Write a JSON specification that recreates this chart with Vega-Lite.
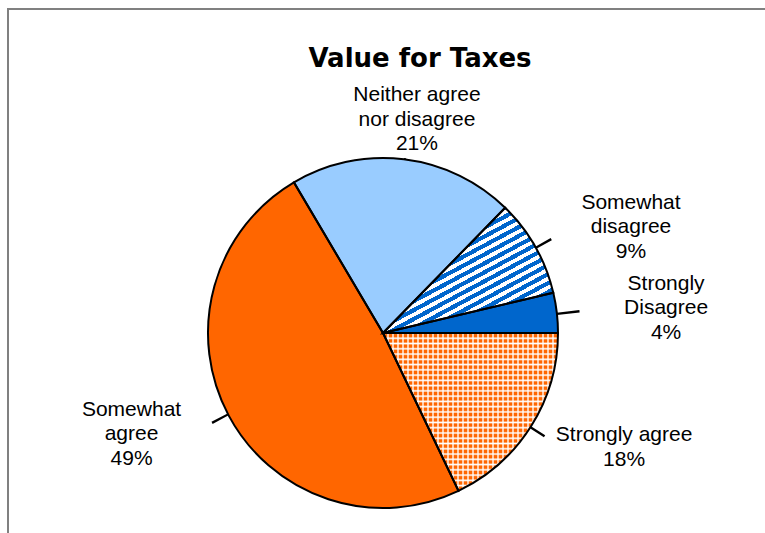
{
  "$schema": "https://vega.github.io/schema/vega-lite/v6.json",
  "width": 800,
  "height": 560,
  "autosize": "none",
  "padding": {"left": 8, "top": 9, "right": 0, "bottom": 0},
  "background": "white",
  "view": {"stroke": "#808080", "strokeWidth": 2},
  "title": {
    "text": "Value for Taxes",
    "font": "DejaVu Sans",
    "fontSize": 26,
    "fontWeight": "bold",
    "color": "#000",
    "anchor": "middle",
    "dx": 12,
    "offset": -63
  },
  "data": {
    "values": [
      {"cat": "Strongly agree", "order": 1, "value": 17.9, "label": ["Strongly agree", "18%"]},
      {"cat": "Somewhat agree", "order": 2, "value": 48.6, "label": ["Somewhat", "agree", "49%"]},
      {"cat": "Neither agree nor disagree", "order": 3, "value": 20.8, "label": ["Neither agree", "nor disagree", "21%"]},
      {"cat": "Somewhat disagree", "order": 4, "value": 9.0, "label": ["Somewhat", "disagree", "9%"]},
      {"cat": "Strongly Disagree", "order": 5, "value": 3.7, "label": ["Strongly", "Disagree", "4%"]}
    ]
  },
  "transform": [
    {"stack": "value", "groupby": [], "sort": [{"field": "order"}], "as": ["v0", "v1"]},
    {"calculate": "(datum.v0 + datum.v1) / 2", "as": "mid"},
    {"calculate": "datum.mid + 0.2", "as": "mid2"},
    {"calculate": "2 * PI * datum.mid / 100", "as": "ang"}
  ],
  "layer": [
    {
      "data": {"values": [{"z": 0}]},
      "transform": [],
      "mark": {"type": "point", "opacity": 0},
      "encoding": {
        "x": {"field": "z", "type": "quantitative", "axis": null},
        "y": {"field": "z", "type": "quantitative", "axis": null}
      }
    },
    {
      "mark": {"type": "arc", "outerRadius": 175, "x": 375, "y": 324, "strokeWidth": 0},
      "encoding": {
        "theta": {"field": "v0", "type": "quantitative", "stack": null, "scale": {"domain": [0, 100], "range": [1.5708, 7.854]}},
        "theta2": {"field": "v1"},
        "color": {
          "condition": [
            {"test": "datum.cat === 'Somewhat disagree'", "value": {
              "gradient": "linear", "x1": 0, "y1": 0, "x2": 0.85, "y2": 1.17,
              "stops": [
                {"offset": 0, "color": "#0066cc"}, {"offset": 0.021, "color": "#0066cc"}, {"offset": 0.021, "color": "#fff"}, {"offset": 0.04, "color": "#fff"},
                {"offset": 0.04, "color": "#0066cc"}, {"offset": 0.061, "color": "#0066cc"}, {"offset": 0.061, "color": "#fff"}, {"offset": 0.08, "color": "#fff"},
                {"offset": 0.08, "color": "#0066cc"}, {"offset": 0.101, "color": "#0066cc"}, {"offset": 0.101, "color": "#fff"}, {"offset": 0.12, "color": "#fff"},
                {"offset": 0.12, "color": "#0066cc"}, {"offset": 0.141, "color": "#0066cc"}, {"offset": 0.141, "color": "#fff"}, {"offset": 0.16, "color": "#fff"},
                {"offset": 0.16, "color": "#0066cc"}, {"offset": 0.181, "color": "#0066cc"}, {"offset": 0.181, "color": "#fff"}, {"offset": 0.20, "color": "#fff"},
                {"offset": 0.20, "color": "#0066cc"}, {"offset": 0.221, "color": "#0066cc"}, {"offset": 0.221, "color": "#fff"}, {"offset": 0.24, "color": "#fff"},
                {"offset": 0.24, "color": "#0066cc"}, {"offset": 0.261, "color": "#0066cc"}, {"offset": 0.261, "color": "#fff"}, {"offset": 0.28, "color": "#fff"},
                {"offset": 0.28, "color": "#0066cc"}, {"offset": 0.301, "color": "#0066cc"}, {"offset": 0.301, "color": "#fff"}, {"offset": 0.32, "color": "#fff"},
                {"offset": 0.32, "color": "#0066cc"}, {"offset": 0.341, "color": "#0066cc"}, {"offset": 0.341, "color": "#fff"}, {"offset": 0.36, "color": "#fff"},
                {"offset": 0.36, "color": "#0066cc"}, {"offset": 0.381, "color": "#0066cc"}, {"offset": 0.381, "color": "#fff"}, {"offset": 0.40, "color": "#fff"},
                {"offset": 0.40, "color": "#0066cc"}, {"offset": 0.421, "color": "#0066cc"}, {"offset": 0.421, "color": "#fff"}, {"offset": 0.44, "color": "#fff"},
                {"offset": 0.44, "color": "#0066cc"}, {"offset": 0.461, "color": "#0066cc"}, {"offset": 0.461, "color": "#fff"}, {"offset": 0.48, "color": "#fff"},
                {"offset": 0.48, "color": "#0066cc"}, {"offset": 0.501, "color": "#0066cc"}, {"offset": 0.501, "color": "#fff"}, {"offset": 0.52, "color": "#fff"},
                {"offset": 0.52, "color": "#0066cc"}, {"offset": 0.541, "color": "#0066cc"}, {"offset": 0.541, "color": "#fff"}, {"offset": 0.56, "color": "#fff"},
                {"offset": 0.56, "color": "#0066cc"}, {"offset": 0.581, "color": "#0066cc"}, {"offset": 0.581, "color": "#fff"}, {"offset": 0.60, "color": "#fff"},
                {"offset": 0.60, "color": "#0066cc"}, {"offset": 0.621, "color": "#0066cc"}, {"offset": 0.621, "color": "#fff"}, {"offset": 0.64, "color": "#fff"},
                {"offset": 0.64, "color": "#0066cc"}, {"offset": 0.661, "color": "#0066cc"}, {"offset": 0.661, "color": "#fff"}, {"offset": 0.68, "color": "#fff"},
                {"offset": 0.68, "color": "#0066cc"}, {"offset": 0.701, "color": "#0066cc"}, {"offset": 0.701, "color": "#fff"}, {"offset": 0.72, "color": "#fff"},
                {"offset": 0.72, "color": "#0066cc"}, {"offset": 0.741, "color": "#0066cc"}, {"offset": 0.741, "color": "#fff"}, {"offset": 0.76, "color": "#fff"},
                {"offset": 0.76, "color": "#0066cc"}, {"offset": 0.781, "color": "#0066cc"}, {"offset": 0.781, "color": "#fff"}, {"offset": 0.80, "color": "#fff"},
                {"offset": 0.80, "color": "#0066cc"}, {"offset": 0.821, "color": "#0066cc"}, {"offset": 0.821, "color": "#fff"}, {"offset": 0.84, "color": "#fff"},
                {"offset": 0.84, "color": "#0066cc"}, {"offset": 0.861, "color": "#0066cc"}, {"offset": 0.861, "color": "#fff"}, {"offset": 0.88, "color": "#fff"},
                {"offset": 0.88, "color": "#0066cc"}, {"offset": 0.901, "color": "#0066cc"}, {"offset": 0.901, "color": "#fff"}, {"offset": 0.92, "color": "#fff"},
                {"offset": 0.92, "color": "#0066cc"}, {"offset": 0.941, "color": "#0066cc"}, {"offset": 0.941, "color": "#fff"}, {"offset": 0.96, "color": "#fff"},
                {"offset": 0.96, "color": "#0066cc"}, {"offset": 0.981, "color": "#0066cc"}, {"offset": 0.981, "color": "#fff"}, {"offset": 1, "color": "#fff"}
              ]
            }},
            {"test": "datum.cat === 'Strongly agree'", "value": {
              "gradient": "linear", "x1": 0, "y1": 0, "x2": 0, "y2": 1,
              "stops": [
                {"offset": 0, "color": "#fff"}, {"offset": 0.01, "color": "#ff6600"}, {"offset": 0.02333, "color": "#ff6600"},
                {"offset": 0.03333, "color": "#fff"}, {"offset": 0.04333, "color": "#ff6600"}, {"offset": 0.05667, "color": "#ff6600"},
                {"offset": 0.06667, "color": "#fff"}, {"offset": 0.07667, "color": "#ff6600"}, {"offset": 0.09, "color": "#ff6600"},
                {"offset": 0.1, "color": "#fff"}, {"offset": 0.11, "color": "#ff6600"}, {"offset": 0.12333, "color": "#ff6600"},
                {"offset": 0.13333, "color": "#fff"}, {"offset": 0.14333, "color": "#ff6600"}, {"offset": 0.15667, "color": "#ff6600"},
                {"offset": 0.16667, "color": "#fff"}, {"offset": 0.17667, "color": "#ff6600"}, {"offset": 0.19, "color": "#ff6600"},
                {"offset": 0.2, "color": "#fff"}, {"offset": 0.21, "color": "#ff6600"}, {"offset": 0.22333, "color": "#ff6600"},
                {"offset": 0.23333, "color": "#fff"}, {"offset": 0.24333, "color": "#ff6600"}, {"offset": 0.25667, "color": "#ff6600"},
                {"offset": 0.26667, "color": "#fff"}, {"offset": 0.27667, "color": "#ff6600"}, {"offset": 0.29, "color": "#ff6600"},
                {"offset": 0.3, "color": "#fff"}, {"offset": 0.31, "color": "#ff6600"}, {"offset": 0.32333, "color": "#ff6600"},
                {"offset": 0.33333, "color": "#fff"}, {"offset": 0.34333, "color": "#ff6600"}, {"offset": 0.35667, "color": "#ff6600"},
                {"offset": 0.36667, "color": "#fff"}, {"offset": 0.37667, "color": "#ff6600"}, {"offset": 0.39, "color": "#ff6600"},
                {"offset": 0.4, "color": "#fff"}, {"offset": 0.41, "color": "#ff6600"}, {"offset": 0.42333, "color": "#ff6600"},
                {"offset": 0.43333, "color": "#fff"}, {"offset": 0.44333, "color": "#ff6600"}, {"offset": 0.45667, "color": "#ff6600"},
                {"offset": 0.46667, "color": "#fff"}, {"offset": 0.47667, "color": "#ff6600"}, {"offset": 0.49, "color": "#ff6600"},
                {"offset": 0.5, "color": "#fff"}, {"offset": 0.51, "color": "#ff6600"}, {"offset": 0.52333, "color": "#ff6600"},
                {"offset": 0.53333, "color": "#fff"}, {"offset": 0.54333, "color": "#ff6600"}, {"offset": 0.55667, "color": "#ff6600"},
                {"offset": 0.56667, "color": "#fff"}, {"offset": 0.57667, "color": "#ff6600"}, {"offset": 0.59, "color": "#ff6600"},
                {"offset": 0.6, "color": "#fff"}, {"offset": 0.61, "color": "#ff6600"}, {"offset": 0.62333, "color": "#ff6600"},
                {"offset": 0.63333, "color": "#fff"}, {"offset": 0.64333, "color": "#ff6600"}, {"offset": 0.65667, "color": "#ff6600"},
                {"offset": 0.66667, "color": "#fff"}, {"offset": 0.67667, "color": "#ff6600"}, {"offset": 0.69, "color": "#ff6600"},
                {"offset": 0.7, "color": "#fff"}, {"offset": 0.71, "color": "#ff6600"}, {"offset": 0.72333, "color": "#ff6600"},
                {"offset": 0.73333, "color": "#fff"}, {"offset": 0.74333, "color": "#ff6600"}, {"offset": 0.75667, "color": "#ff6600"},
                {"offset": 0.76667, "color": "#fff"}, {"offset": 0.77667, "color": "#ff6600"}, {"offset": 0.79, "color": "#ff6600"},
                {"offset": 0.8, "color": "#fff"}, {"offset": 0.81, "color": "#ff6600"}, {"offset": 0.82333, "color": "#ff6600"},
                {"offset": 0.83333, "color": "#fff"}, {"offset": 0.84333, "color": "#ff6600"}, {"offset": 0.85667, "color": "#ff6600"},
                {"offset": 0.86667, "color": "#fff"}, {"offset": 0.87667, "color": "#ff6600"}, {"offset": 0.89, "color": "#ff6600"},
                {"offset": 0.9, "color": "#fff"}, {"offset": 0.91, "color": "#ff6600"}, {"offset": 0.92333, "color": "#ff6600"},
                {"offset": 0.93333, "color": "#fff"}, {"offset": 0.94333, "color": "#ff6600"}, {"offset": 0.95667, "color": "#ff6600"},
                {"offset": 0.96667, "color": "#fff"}, {"offset": 0.97667, "color": "#ff6600"}, {"offset": 0.99, "color": "#ff6600"},
                {"offset": 1, "color": "#fff"}
              ]
            }}
          ],
          "field": "cat",
          "type": "nominal",
          "scale": {
            "domain": ["Strongly agree", "Somewhat agree", "Neither agree nor disagree", "Somewhat disagree", "Strongly Disagree"],
            "range": ["#ffffff", "#ff6600", "#99ccff", "#ffffff", "#0066cc"]
          },
          "legend": null
        }
      }
    },
    {
      "transform": [{"filter": "datum.cat === 'Strongly agree'"}],
      "mark": {
        "type": "arc", "outerRadius": 175, "x": 375, "y": 324, "strokeWidth": 0,
        "fill": {
          "gradient": "linear", "x1": 0, "y1": 0, "x2": 1, "y2": 0,
          "stops": [
            {"offset": 0, "color": "rgba(255,255,255,1)"}, {"offset": 0.00857, "color": "rgba(255,255,255,0)"}, {"offset": 0.02, "color": "rgba(255,255,255,0)"},
            {"offset": 0.02857, "color": "rgba(255,255,255,1)"}, {"offset": 0.03714, "color": "rgba(255,255,255,0)"}, {"offset": 0.04857, "color": "rgba(255,255,255,0)"},
            {"offset": 0.05714, "color": "rgba(255,255,255,1)"}, {"offset": 0.06571, "color": "rgba(255,255,255,0)"}, {"offset": 0.07714, "color": "rgba(255,255,255,0)"},
            {"offset": 0.08571, "color": "rgba(255,255,255,1)"}, {"offset": 0.09429, "color": "rgba(255,255,255,0)"}, {"offset": 0.10571, "color": "rgba(255,255,255,0)"},
            {"offset": 0.11429, "color": "rgba(255,255,255,1)"}, {"offset": 0.12286, "color": "rgba(255,255,255,0)"}, {"offset": 0.13429, "color": "rgba(255,255,255,0)"},
            {"offset": 0.14286, "color": "rgba(255,255,255,1)"}, {"offset": 0.15143, "color": "rgba(255,255,255,0)"}, {"offset": 0.16286, "color": "rgba(255,255,255,0)"},
            {"offset": 0.17143, "color": "rgba(255,255,255,1)"}, {"offset": 0.18, "color": "rgba(255,255,255,0)"}, {"offset": 0.19143, "color": "rgba(255,255,255,0)"},
            {"offset": 0.2, "color": "rgba(255,255,255,1)"}, {"offset": 0.20857, "color": "rgba(255,255,255,0)"}, {"offset": 0.22, "color": "rgba(255,255,255,0)"},
            {"offset": 0.22857, "color": "rgba(255,255,255,1)"}, {"offset": 0.23714, "color": "rgba(255,255,255,0)"}, {"offset": 0.24857, "color": "rgba(255,255,255,0)"},
            {"offset": 0.25714, "color": "rgba(255,255,255,1)"}, {"offset": 0.26571, "color": "rgba(255,255,255,0)"}, {"offset": 0.27714, "color": "rgba(255,255,255,0)"},
            {"offset": 0.28571, "color": "rgba(255,255,255,1)"}, {"offset": 0.29429, "color": "rgba(255,255,255,0)"}, {"offset": 0.30571, "color": "rgba(255,255,255,0)"},
            {"offset": 0.31429, "color": "rgba(255,255,255,1)"}, {"offset": 0.32286, "color": "rgba(255,255,255,0)"}, {"offset": 0.33429, "color": "rgba(255,255,255,0)"},
            {"offset": 0.34286, "color": "rgba(255,255,255,1)"}, {"offset": 0.35143, "color": "rgba(255,255,255,0)"}, {"offset": 0.36286, "color": "rgba(255,255,255,0)"},
            {"offset": 0.37143, "color": "rgba(255,255,255,1)"}, {"offset": 0.38, "color": "rgba(255,255,255,0)"}, {"offset": 0.39143, "color": "rgba(255,255,255,0)"},
            {"offset": 0.4, "color": "rgba(255,255,255,1)"}, {"offset": 0.40857, "color": "rgba(255,255,255,0)"}, {"offset": 0.42, "color": "rgba(255,255,255,0)"},
            {"offset": 0.42857, "color": "rgba(255,255,255,1)"}, {"offset": 0.43714, "color": "rgba(255,255,255,0)"}, {"offset": 0.44857, "color": "rgba(255,255,255,0)"},
            {"offset": 0.45714, "color": "rgba(255,255,255,1)"}, {"offset": 0.46571, "color": "rgba(255,255,255,0)"}, {"offset": 0.47714, "color": "rgba(255,255,255,0)"},
            {"offset": 0.48571, "color": "rgba(255,255,255,1)"}, {"offset": 0.49429, "color": "rgba(255,255,255,0)"}, {"offset": 0.50571, "color": "rgba(255,255,255,0)"},
            {"offset": 0.51429, "color": "rgba(255,255,255,1)"}, {"offset": 0.52286, "color": "rgba(255,255,255,0)"}, {"offset": 0.53429, "color": "rgba(255,255,255,0)"},
            {"offset": 0.54286, "color": "rgba(255,255,255,1)"}, {"offset": 0.55143, "color": "rgba(255,255,255,0)"}, {"offset": 0.56286, "color": "rgba(255,255,255,0)"},
            {"offset": 0.57143, "color": "rgba(255,255,255,1)"}, {"offset": 0.58, "color": "rgba(255,255,255,0)"}, {"offset": 0.59143, "color": "rgba(255,255,255,0)"},
            {"offset": 0.6, "color": "rgba(255,255,255,1)"}, {"offset": 0.60857, "color": "rgba(255,255,255,0)"}, {"offset": 0.62, "color": "rgba(255,255,255,0)"},
            {"offset": 0.62857, "color": "rgba(255,255,255,1)"}, {"offset": 0.63714, "color": "rgba(255,255,255,0)"}, {"offset": 0.64857, "color": "rgba(255,255,255,0)"},
            {"offset": 0.65714, "color": "rgba(255,255,255,1)"}, {"offset": 0.66571, "color": "rgba(255,255,255,0)"}, {"offset": 0.67714, "color": "rgba(255,255,255,0)"},
            {"offset": 0.68571, "color": "rgba(255,255,255,1)"}, {"offset": 0.69429, "color": "rgba(255,255,255,0)"}, {"offset": 0.70571, "color": "rgba(255,255,255,0)"},
            {"offset": 0.71429, "color": "rgba(255,255,255,1)"}, {"offset": 0.72286, "color": "rgba(255,255,255,0)"}, {"offset": 0.73429, "color": "rgba(255,255,255,0)"},
            {"offset": 0.74286, "color": "rgba(255,255,255,1)"}, {"offset": 0.75143, "color": "rgba(255,255,255,0)"}, {"offset": 0.76286, "color": "rgba(255,255,255,0)"},
            {"offset": 0.77143, "color": "rgba(255,255,255,1)"}, {"offset": 0.78, "color": "rgba(255,255,255,0)"}, {"offset": 0.79143, "color": "rgba(255,255,255,0)"},
            {"offset": 0.8, "color": "rgba(255,255,255,1)"}, {"offset": 0.80857, "color": "rgba(255,255,255,0)"}, {"offset": 0.82, "color": "rgba(255,255,255,0)"},
            {"offset": 0.82857, "color": "rgba(255,255,255,1)"}, {"offset": 0.83714, "color": "rgba(255,255,255,0)"}, {"offset": 0.84857, "color": "rgba(255,255,255,0)"},
            {"offset": 0.85714, "color": "rgba(255,255,255,1)"}, {"offset": 0.86571, "color": "rgba(255,255,255,0)"}, {"offset": 0.87714, "color": "rgba(255,255,255,0)"},
            {"offset": 0.88571, "color": "rgba(255,255,255,1)"}, {"offset": 0.89429, "color": "rgba(255,255,255,0)"}, {"offset": 0.90571, "color": "rgba(255,255,255,0)"},
            {"offset": 0.91429, "color": "rgba(255,255,255,1)"}, {"offset": 0.92286, "color": "rgba(255,255,255,0)"}, {"offset": 0.93429, "color": "rgba(255,255,255,0)"},
            {"offset": 0.94286, "color": "rgba(255,255,255,1)"}, {"offset": 0.95143, "color": "rgba(255,255,255,0)"}, {"offset": 0.96286, "color": "rgba(255,255,255,0)"},
            {"offset": 0.97143, "color": "rgba(255,255,255,1)"}, {"offset": 0.98, "color": "rgba(255,255,255,0)"}, {"offset": 0.99143, "color": "rgba(255,255,255,0)"},
            {"offset": 1, "color": "rgba(255,255,255,1)"}
          ]
        }
      },
      "encoding": {
        "theta": {"field": "v0", "type": "quantitative", "stack": null},
        "theta2": {"field": "v1"}
      }
    },
    {
      "mark": {"type": "arc", "outerRadius": 175, "x": 375, "y": 324, "filled": false, "stroke": "#000", "strokeWidth": 2},
      "encoding": {
        "theta": {"field": "v0", "type": "quantitative", "stack": null},
        "theta2": {"field": "v1"}
      }
    },
    {
      "mark": {"type": "arc", "x": 375, "y": 324, "radius2": 175, "radius": {"expr": "176 + 22 * pow(abs(cos(datum.ang)), 2)"}, "fill": "#000", "strokeWidth": 0},
      "encoding": {
        "theta": {"field": "mid", "type": "quantitative", "stack": null},
        "theta2": {"field": "mid2"}
      }
    },
    {
      "mark": {
        "type": "text", "x": 375, "y": 324,
        "theta": {"expr": "atan2(285 * cos(datum.ang), -215 * sin(datum.ang))"},
        "radius": {"expr": "sqrt(pow(285 * cos(datum.ang), 2) + pow(215 * sin(datum.ang), 2))"},
        "dy": {"expr": "-(length(datum.label) - 1) * 12.25"},
        "align": "center", "baseline": "middle",
        "font": "Liberation Sans", "fontSize": 21, "lineHeight": 24.5, "color": "#000"
      },
      "encoding": {
        "text": {"field": "label"}
      }
    }
  ]
}
